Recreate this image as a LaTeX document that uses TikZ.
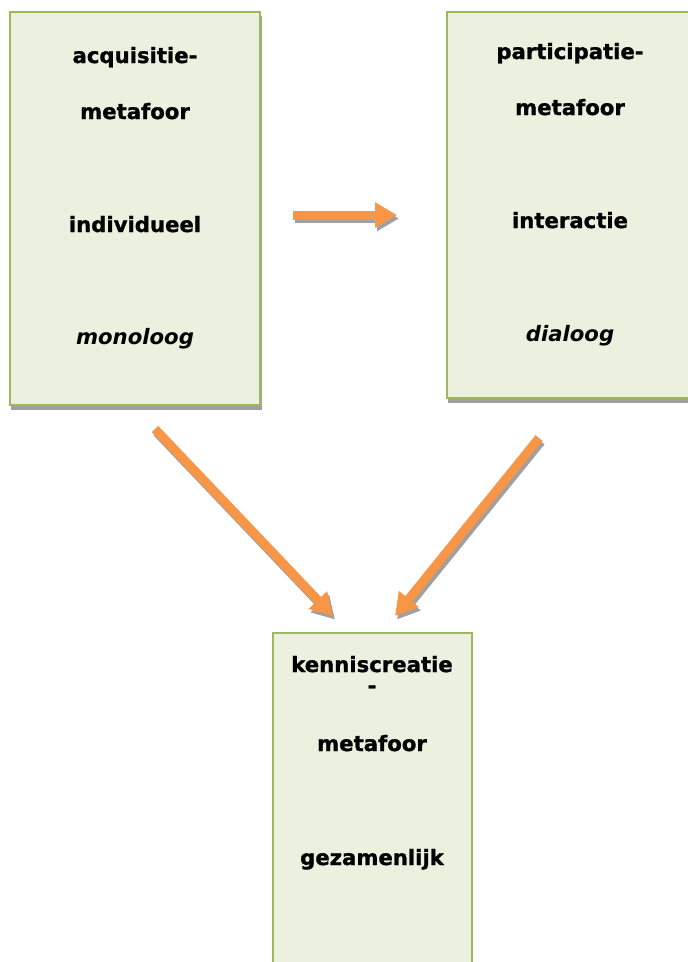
\documentclass[tikz,border=0pt]{standalone}
\usepackage{fontspec}
\setmainfont{DejaVu Sans}[BoldFeatures={FakeBold=1.2}]
\usetikzlibrary{arrows.meta}
\definecolor{boxfill}{HTML}{EBF1DE}
\definecolor{boxline}{HTML}{9BBB59}
\definecolor{shadowgray}{HTML}{A0A0A0}
\definecolor{arroworange}{HTML}{F79646}
\tikzset{
  metabox/.style={draw=boxline, line width=2.8pt, fill=boxfill},
  boxshadow/.style={fill=shadowgray, draw=none},
  lbl/.style={anchor=base, inner sep=0pt, font=\fontsize{21.2}{25}\selectfont\bfseries},
  ilbl/.style={lbl, font=\fontsize{21.2}{25}\selectfont\bfseries\itshape},
  bigarrow/.style={line width=9pt, -{Triangle[width=24pt,length=22pt]}, draw=arroworange},
  arrowshadow/.style={line width=9pt, -{Triangle[width=24pt,length=22pt]}, draw=shadowgray},
  sh/.style={xshift=2pt, yshift=-3.5pt}
}
\begin{document}
\begin{tikzpicture}[x=1pt,y=-1pt]
\useasboundingbox (0,0) rectangle (688,962);
\clip (0,0) rectangle (688,962);
% shadows of boxes
\fill[boxshadow] (11,16) rectangle (262,410);
\fill[boxshadow] (448,16) rectangle (697,403);
% boxes
\draw[metabox] (10,12) rectangle (260,405);
\draw[metabox] (447,12) rectangle (697,398);
\draw[metabox] (273,633) rectangle (472,980);
\node (b1) at (135,208) {};
\node (b2) at (572,205) {};
\node (b3) at (372,800) {};
% texts box 1
\node[lbl] (a1) at (135,63) {acquisitie-};
\node[lbl] (a2) at (135,119) {metafoor};
\node[lbl] (a3) at (135,232) {individueel};
\node[ilbl] (a4) at (135,344) {monoloog};
% texts box 2
\node[lbl] (p1) at (570,59) {participatie-};
\node[lbl] (p2) at (570,115) {metafoor};
\node[lbl] (p3) at (570,228) {interactie};
\node[ilbl] (p4) at (570,341) {dialoog};
% texts box 3
\node[lbl] (k1) at (372,672) {kenniscreatie};
\node[lbl] (k2) at (372,693) {-};
\node[lbl] (k3) at (372,751) {metafoor};
\node[lbl] (k4) at (372,865) {gezamenlijk};
% arrow end points
\coordinate (h1) at (293,215);
\coordinate (h2) at (397,215);
\coordinate (d1s) at (155,429);
\coordinate (d1e) at (333,616);
\coordinate (d2s) at (539,438);
\coordinate (d2e) at (395,616);
% arrow shadows
\draw[arrowshadow] ([sh]h1) -- ([sh]h2);
\draw[arrowshadow] ([sh]d1s) -- ([sh]d1e);
\draw[arrowshadow] ([sh]d2s) -- ([sh]d2e);
% arrows
\draw[bigarrow] (h1) -- (h2);
\draw[bigarrow] (d1s) -- (d1e);
\draw[bigarrow] (d2s) -- (d2e);
\end{tikzpicture}
\end{document}
